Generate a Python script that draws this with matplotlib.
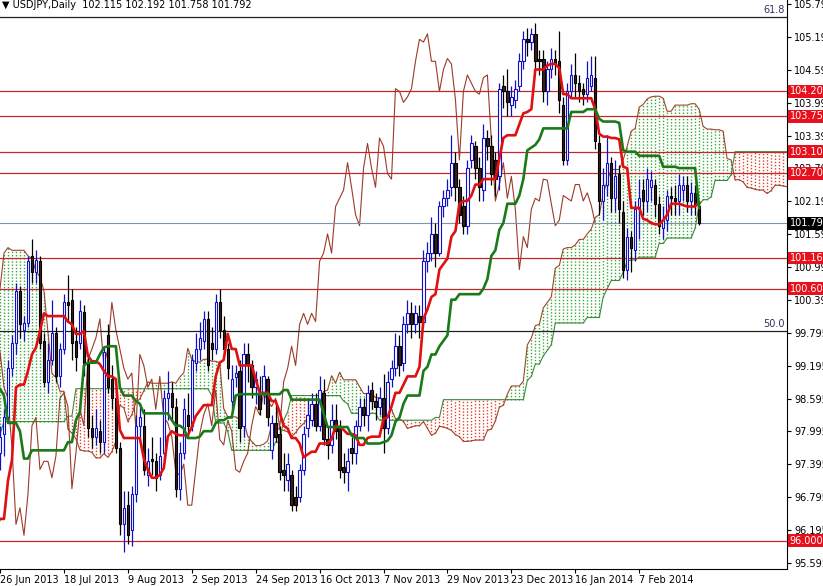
import numpy as np
import pandas as pd
import matplotlib
matplotlib.use("Agg")
import matplotlib.pyplot as plt

# bars before the visible window (8 Mar - 25 Jun 2013), only needed for the Ichimoku lines
pre_high = [96.6, 96.6, 96.7, 96.4, 96.5, 96.2, 95.3, 95.4, 95.8, 95.8, 95.0, 95.0, 94.5, 94.5, 94.5, 94.5,
            94.2, 93.5, 93.5, 96.1, 97.8, 99.0, 99.0, 99.7, 99.95, 99.5, 98.3, 98.0, 98.2, 98.5, 99.6,
            99.9, 99.8, 99.6, 99.6, 99.3, 98.3, 97.9, 97.6, 98.1, 99.2, 99.4, 99.1, 99.1, 100.6, 101.6,
            102.0, 102.2, 102.4, 102.3, 103.3, 103.3, 103.0, 103.75, 103.5, 102.1, 102.1, 102.5, 102.2,
            101.2, 101.2, 100.8, 100.5, 100.1, 99.3, 98.0, 99.2, 99.1, 96.9, 96.3, 95.6, 95.4, 95.9,
            97.7, 98.1, 98.7, 98.5, 98.0]
pre_low = [94.9, 95.8, 95.9, 95.6, 95.9, 95.1, 94.0, 94.7, 94.8, 95.0, 94.2, 94.1, 93.9, 93.9, 93.8, 94.1,
           92.9, 92.6, 92.8, 92.8, 95.4, 96.9, 98.0, 98.8, 99.0, 98.1, 96.7, 96.9, 97.2, 97.6, 98.3,
           98.9, 98.9, 98.9, 98.6, 97.7, 97.5, 97.2, 97.2, 97.1, 97.8, 98.7, 98.7, 98.6, 98.9, 100.4,
           101.2, 101.3, 101.7, 101.6, 102.0, 102.5, 102.1, 102.9, 100.8, 100.6, 100.8, 101.2, 100.6,
           100.2, 100.0, 99.1, 98.9, 99.0, 96.5, 94.98, 97.2, 95.8, 95.7, 93.8, 94.3, 94.1, 94.9,
           95.2, 96.9, 97.6, 97.3, 97.0]

# visible daily bars, 26 Jun 2013 - 28 Feb 2014
opens = [97.60, 97.95, 98.25, 99.15, 99.60, 100.55, 99.85, 99.97, 101.20, 100.90, 101.10, 99.65, 98.90, 99.30,
         99.80, 99.00, 99.50, 100.35, 100.40, 99.65, 99.60, 100.17, 99.24, 98.05, 97.90, 98.00, 97.80, 99.75,
         98.95, 98.60, 97.70, 96.30, 96.65, 96.20, 96.85, 98.10, 98.10, 97.20, 97.50, 97.45, 97.20, 97.60,
         98.60, 98.70, 98.45, 96.95, 97.60, 98.30, 98.10, 99.25, 99.50, 99.65, 100.05, 99.60, 99.50, 100.35,
         99.85, 99.50, 98.55, 98.99, 99.10, 98.10, 99.40, 99.20, 98.80, 98.70, 98.70, 98.95, 97.65, 98.15,
         97.95, 97.30, 97.10, 97.20, 96.80, 96.80, 97.30, 98.05, 98.20, 98.50, 98.10, 98.70, 97.85, 97.75,
         98.20, 98.05, 97.35, 97.25, 97.70, 97.60, 98.10, 98.45, 98.30, 98.75, 98.55, 98.45, 98.60, 98.05,
         98.95, 99.15, 99.55, 99.25, 99.95, 100.15, 99.95, 100.10, 100.00, 101.10, 101.25, 101.60, 101.25,
         102.10, 102.25, 102.45, 102.90, 102.45, 102.10, 101.75, 102.95, 103.20, 102.80, 102.40, 103.35,
         103.20, 102.95, 102.65, 104.30, 104.20, 103.95, 104.05, 104.30, 104.75, 105.15, 105.10, 105.25,
         104.80, 104.80, 104.20, 104.60, 104.80, 104.75, 103.95, 102.95, 104.20, 104.50, 104.35, 104.25,
         104.15, 104.30, 104.45, 103.25, 102.20, 102.50, 102.90, 102.25, 102.70, 102.00, 100.95, 101.55,
         101.30, 102.05, 102.40, 102.20, 102.45, 102.50, 102.15, 101.70, 101.85, 102.30, 102.25, 102.20,
         102.40, 102.50, 102.20, 102.35, 102.115]
highs = [98.10, 98.40, 99.30, 99.75, 100.70, 100.65, 100.10, 101.20, 101.50, 101.30, 101.20, 99.80, 99.60,
         100.40, 99.90, 99.60, 100.50, 100.85, 100.60, 99.90, 100.40, 100.30, 99.40, 98.30, 98.40, 98.20,
         99.55, 99.95, 99.20, 98.80, 97.80, 96.90, 96.90, 97.00, 98.30, 98.50, 98.40, 97.70, 97.90, 97.60,
         97.90, 98.75, 99.10, 98.90, 98.60, 97.80, 98.60, 98.70, 99.40, 99.80, 100.00, 100.20, 100.20,
         99.90, 100.50, 100.60, 100.10, 99.60, 99.20, 99.20, 99.30, 99.60, 99.60, 99.30, 99.10, 99.00,
         99.20, 99.00, 98.30, 98.50, 98.10, 97.60, 97.60, 97.30, 97.00, 97.40, 98.10, 98.60, 98.70, 98.70,
         99.00, 98.95, 98.10, 98.50, 98.50, 98.20, 97.60, 97.70, 97.90, 98.20, 98.60, 98.60, 98.85, 98.90,
         98.70, 98.80, 99.05, 99.10, 99.30, 99.80, 99.75, 100.10, 100.40, 100.35, 100.30, 100.30, 101.30,
         101.45, 101.90, 101.80, 102.20, 102.40, 102.60, 103.40, 103.10, 102.60, 102.30, 102.95, 103.40,
         103.30, 103.00, 103.60, 103.50, 103.40, 103.10, 104.35, 104.50, 104.60, 104.30, 104.40, 104.90,
         105.30, 105.35, 105.35, 105.45, 104.95, 104.95, 104.75, 105.00, 104.95, 105.30, 104.10, 104.35,
         104.70, 104.90, 104.50, 104.35, 104.75, 104.85, 104.85, 103.40, 102.80, 103.40, 103.00, 102.95,
         102.85, 102.20, 101.70, 101.65, 102.20, 102.60, 102.60, 102.80, 102.75, 102.60, 102.30, 102.10,
         102.40, 102.45, 102.50, 102.70, 102.65, 102.65, 102.55, 102.50, 102.192]
lows = [97.30, 97.55, 98.15, 99.00, 99.40, 99.70, 99.65, 99.90, 100.70, 100.70, 99.50, 98.80, 98.70, 99.20,
        98.90, 98.80, 99.40, 100.00, 99.30, 99.10, 99.50, 99.00, 97.90, 97.70, 97.75, 97.60, 97.60, 98.70,
        98.40, 97.60, 96.10, 95.80, 95.95, 95.90, 96.70, 97.90, 97.20, 97.00, 97.20, 96.90, 97.10, 97.50,
        98.20, 98.20, 96.80, 96.75, 97.50, 97.90, 98.00, 99.10, 99.30, 99.50, 99.10, 99.30, 99.40, 99.70,
        99.45, 98.95, 98.40, 98.80, 97.80, 97.90, 98.90, 98.60, 98.50, 98.30, 98.50, 98.10, 97.50, 97.80,
        97.10, 96.90, 96.90, 96.55, 96.55, 96.70, 97.20, 97.90, 98.10, 98.00, 98.00, 97.75, 97.50, 97.60,
        97.85, 97.15, 97.05, 96.90, 97.40, 97.40, 98.00, 98.10, 98.00, 98.40, 98.20, 98.30, 97.60, 97.95,
        98.80, 99.00, 99.00, 99.10, 99.80, 99.70, 99.80, 99.70, 99.90, 100.90, 101.10, 101.00, 101.20,
        101.90, 102.10, 102.30, 102.20, 101.80, 101.60, 101.60, 102.80, 102.60, 102.20, 102.20, 102.95,
        102.50, 102.30, 102.40, 103.90, 103.75, 103.75, 103.90, 104.20, 104.60, 104.85, 104.95, 104.60,
        104.50, 104.00, 103.95, 104.45, 104.50, 103.80, 102.85, 102.85, 104.10, 104.10, 104.00, 103.95,
        104.00, 104.20, 103.15, 101.95, 101.85, 102.30, 102.00, 102.00, 101.80, 100.80, 100.75, 100.90,
        101.10, 101.50, 101.95, 102.00, 102.20, 101.90, 101.60, 101.50, 101.65, 101.95, 101.95, 101.95,
        102.20, 102.00, 101.95, 101.95, 101.758]
closes = [97.90, 98.25, 99.15, 99.60, 100.55, 99.95, 99.97, 101.10, 100.90, 101.12, 99.60, 98.90, 99.30,
          99.80, 99.00, 99.50, 100.35, 100.30, 99.60, 99.35, 100.20, 99.24, 98.05, 97.90, 98.05, 97.80,
          99.45, 98.80, 98.60, 97.70, 96.30, 96.60, 96.10, 96.85, 98.10, 98.25, 97.30, 97.45, 97.45, 97.15,
          97.55, 98.60, 98.70, 98.45, 96.95, 97.60, 98.40, 98.10, 99.30, 99.50, 99.70, 100.05, 99.20, 99.50,
          100.35, 99.85, 99.50, 99.15, 98.95, 99.06, 98.05, 99.40, 99.20, 98.80, 98.95, 98.40, 99.00, 98.25,
          98.15, 97.90, 97.25, 97.20, 97.40, 96.65, 96.65, 97.30, 97.95, 98.30, 98.50, 98.10, 98.75, 97.85,
          97.75, 98.20, 98.00, 97.30, 97.25, 97.45, 97.60, 98.10, 98.45, 98.30, 98.70, 98.55, 98.45, 98.60,
          98.05, 98.90, 99.15, 99.55, 99.20, 99.95, 100.15, 99.95, 100.15, 100.00, 101.10, 101.25, 101.60,
          101.25, 102.10, 102.25, 102.40, 102.90, 102.45, 101.95, 101.75, 102.80, 103.25, 102.80, 102.45,
          103.35, 103.20, 102.70, 102.60, 104.25, 104.20, 104.00, 104.10, 104.25, 104.75, 105.15, 105.10,
          105.25, 104.75, 104.75, 104.20, 104.60, 104.80, 104.70, 104.05, 102.95, 104.20, 104.50, 104.35,
          104.20, 104.15, 104.45, 104.50, 103.30, 102.20, 102.50, 102.90, 102.25, 102.65, 102.05, 100.95,
          101.55, 101.35, 102.05, 102.25, 102.20, 102.60, 102.58, 102.15, 101.75, 101.85, 102.30, 102.25,
          102.20, 102.50, 102.50, 102.20, 102.35, 102.12, 101.792]

red_levels = [104.200, 103.750, 103.100, 102.705, 101.160, 100.600, 96.000]
fib_levels = [105.558, 99.828]
fib_names = ["61.8", "50.0"]
last_price = 101.792
price_ticks = [105.795, 105.195, 104.595, 103.995, 103.395, 102.795, 102.195, 101.595, 100.995,
               100.395, 99.795, 99.195, 98.595, 97.995, 97.395, 96.795, 96.195, 95.595]
date_labels = ["26 Jun 2013", "18 Jul 2013", "9 Aug 2013", "2 Sep 2013", "24 Sep 2013", "16 Oct 2013",
               "7 Nov 2013", "29 Nov 2013", "23 Dec 2013", "16 Jan 2014", "7 Feb 2014"]
date_bars = [0, 16, 32, 48, 64, 80, 96, 112, 128, 144, 160]

plt.rcParams['font.family'] = ['DejaVu Sans']

o = np.array(opens); h = np.array(highs); l = np.array(lows); c = np.array(closes)
x = np.arange(len(c))

# ichimoku from highs/lows
n_pre = len(pre_high)
H = pd.Series(pre_high + highs)
L = pd.Series(pre_low + lows)
idx = np.arange(len(H)) - n_pre
def mid(n):
    return ((H.rolling(n).max() + L.rolling(n).min()) / 2).values
tenkan = mid(9)
kijun = mid(26)
span_a = (tenkan + kijun) / 2
span_b = mid(52)

fig = plt.figure(figsize=(8.23, 5.86), dpi=100)
ax = fig.add_axes([0, 17 / 586, 787 / 823, 569 / 586])
ax.set_xlim(0.25, 197.0)
ax.set_ylim(95.485, 105.868)

# cloud: dotted columns per bar
xs = idx + 26
ok = ~np.isnan(span_a) & ~np.isnan(span_b) & (xs >= -1)
cols = np.where(span_a[ok] >= span_b[ok], '#38a838', '#e0402c')
ax.vlines(xs[ok], np.minimum(span_a[ok], span_b[ok]), np.maximum(span_a[ok], span_b[ok]),
          colors=cols, linewidth=1.0, linestyles=(0, (1.0, 1.3)), zorder=1)
ax.plot(xs[ok], span_a[ok], color='#a0442c', linewidth=0.8, zorder=2)
ax.plot(xs[ok], span_b[ok], color='#3a8a3a', linewidth=0.8, zorder=2)

# chikou
ax.plot(x - 26, c, color='#9b3a2a', linewidth=0.8, zorder=2)

# horizontal levels
for lv in red_levels:
    ax.axhline(lv, color='#c0282a', linewidth=0.9, zorder=3)
for lv, nm in zip(fib_levels, fib_names):
    ax.axhline(lv, color='#202020', linewidth=0.9, zorder=3)
    ax.text(0.997, lv + 0.04, nm, transform=ax.get_yaxis_transform(), ha='right', va='bottom',
            fontsize=7, color='#303060')
ax.axhline(last_price, color='#7d94a4', linewidth=0.8, zorder=3)

# candles
bull = c >= o
ax.vlines(x[bull], l[bull], h[bull], color='#1010c8', linewidth=0.9, zorder=4)
ax.vlines(x[~bull], l[~bull], h[~bull], color='black', linewidth=0.9, zorder=4)
bot = np.minimum(o, c)
hgt = np.maximum(np.abs(c - o), 0.02)
ax.bar(x[bull], hgt[bull], bottom=bot[bull], width=0.6, facecolor='white', edgecolor='#1010c8',
       linewidth=0.8, zorder=5)
ax.bar(x[~bull], hgt[~bull], bottom=bot[~bull], width=0.6, facecolor='#3e1c1c', edgecolor='black',
       linewidth=0.8, zorder=5)

# tenkan / kijun
vis = idx >= -1
ax.plot(idx[vis], tenkan[vis], color='#e01010', linewidth=1.9, zorder=6)
ax.plot(idx[vis], kijun[vis], color='#1a7a1a', linewidth=1.9, zorder=6)

# axes styling
for s in ['left', 'top']:
    ax.spines[s].set_visible(False)
ax.spines['right'].set_color('black')
ax.spines['bottom'].set_color('black')
ax.yaxis.tick_right()
ax.set_yticks(price_ticks)
ax.set_yticklabels(["%.3f" % t for t in price_ticks])
ax.tick_params(axis='y', direction='out', length=3, pad=2, labelsize=7)
ax.set_xticks(date_bars)
ax.set_xticklabels(date_labels)
ax.tick_params(axis='x', direction='out', length=3, pad=1, labelsize=7)
for t in ax.get_xticklabels():
    t.set_ha('left')

# price labels on the right
for lv in red_levels:
    ax.annotate("%.3f" % lv, xy=(1, lv), xycoords=('axes fraction', 'data'), xytext=(2, 0),
                textcoords='offset points', va='center', ha='left', fontsize=7, color='white',
                bbox=dict(boxstyle='square,pad=0.15', fc='#e8101c', ec='none'), zorder=10,
                annotation_clip=False)
ax.annotate("%.3f" % last_price, xy=(1, last_price), xycoords=('axes fraction', 'data'), xytext=(2, 0),
            textcoords='offset points', va='center', ha='left', fontsize=7, color='white',
            bbox=dict(boxstyle='square,pad=0.15', fc='black', ec='none'), zorder=10,
            annotation_clip=False)

fig.text(2 / 823, 1 - 5 / 586, "\u25bc USDJPY,Daily  102.115 102.192 101.758 101.792",
         fontsize=7, va='center', ha='left')

fig.savefig("out.png", dpi=100)
